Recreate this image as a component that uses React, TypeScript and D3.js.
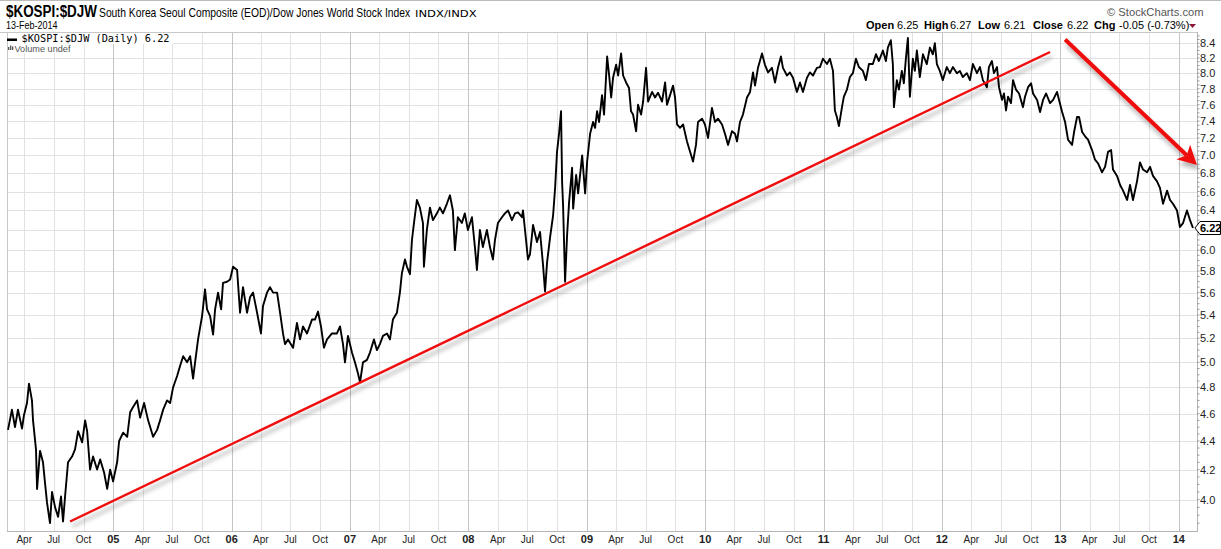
import React from "react";
import * as d3 from "d3";

// [decimal year, KOSPI/DJW ratio]
type Pt = [number, number];

const kospi2004: Pt[] = [
  [2004.112, 4.48], [2004.145, 4.63], [2004.171, 4.5], [2004.196, 4.63], [2004.23, 4.49], [2004.247, 4.59],
  [2004.272, 4.68], [2004.289, 4.83], [2004.314, 4.7], [2004.323, 4.55], [2004.348, 4.34], [2004.357, 4.07],
  [2004.382, 4.33], [2004.407, 4.25], [2004.424, 4.11], [2004.441, 3.98], [2004.466, 3.85], [2004.483, 4.05],
  [2004.509, 3.95], [2004.534, 3.89], [2004.559, 4.02], [2004.576, 3.86], [2004.593, 4.02], [2004.618, 4.25],
  [2004.652, 4.29], [2004.677, 4.34], [2004.703, 4.47], [2004.737, 4.39], [2004.762, 4.55], [2004.779, 4.47],
  [2004.804, 4.2], [2004.829, 4.29], [2004.863, 4.2], [2004.889, 4.27], [2004.922, 4.18], [2004.948, 4.07],
  [2004.973, 4.2], [2004.998, 4.12],
];
const kospi2005: Pt[] = [
  [2005.032, 4.25], [2005.049, 4.4], [2005.083, 4.46], [2005.117, 4.43], [2005.142, 4.61], [2005.167, 4.65],
  [2005.201, 4.7], [2005.226, 4.57], [2005.26, 4.68], [2005.294, 4.55], [2005.336, 4.43], [2005.37, 4.48],
  [2005.395, 4.55], [2005.421, 4.63], [2005.454, 4.7], [2005.48, 4.68], [2005.505, 4.8], [2005.539, 4.89],
  [2005.564, 4.97], [2005.59, 5.05], [2005.623, 5.0], [2005.649, 5.05], [2005.674, 4.87], [2005.691, 5.0],
  [2005.716, 5.19], [2005.75, 5.39], [2005.775, 5.63], [2005.792, 5.45], [2005.818, 5.39], [2005.843, 5.23],
  [2005.86, 5.45], [2005.885, 5.6], [2005.911, 5.45], [2005.927, 5.69], [2005.961, 5.7], [2005.987, 5.72],
];
const kospi2006: Pt[] = [
  [2006.012, 5.84], [2006.046, 5.81], [2006.071, 5.42], [2006.096, 5.65], [2006.13, 5.42], [2006.156, 5.56],
  [2006.181, 5.6], [2006.215, 5.42], [2006.248, 5.24], [2006.265, 5.48], [2006.299, 5.6], [2006.324, 5.65],
  [2006.35, 5.6], [2006.384, 5.6], [2006.409, 5.42], [2006.434, 5.24], [2006.451, 5.15], [2006.476, 5.19],
  [2006.519, 5.12], [2006.552, 5.33], [2006.578, 5.19], [2006.603, 5.3], [2006.637, 5.24], [2006.679, 5.36],
  [2006.704, 5.36], [2006.73, 5.43], [2006.755, 5.3], [2006.78, 5.12], [2006.806, 5.19], [2006.848, 5.24],
  [2006.89, 5.24], [2006.916, 5.3], [2006.941, 5.15], [2006.958, 5.0], [2006.983, 5.22],
];
const kospi2007: Pt[] = [
  [2007.017, 5.08], [2007.042, 5.0], [2007.068, 4.91], [2007.085, 4.84], [2007.11, 5.0], [2007.144, 5.02],
  [2007.169, 5.08], [2007.203, 5.19], [2007.228, 5.1], [2007.253, 5.15], [2007.279, 5.22], [2007.313, 5.24],
  [2007.338, 5.19], [2007.363, 5.36], [2007.397, 5.42], [2007.422, 5.6], [2007.439, 5.78], [2007.465, 5.91],
  [2007.482, 5.84], [2007.507, 5.77], [2007.524, 6.1], [2007.541, 6.27], [2007.566, 6.51], [2007.591, 6.43],
  [2007.617, 6.27], [2007.625, 5.84], [2007.65, 6.2], [2007.676, 6.43], [2007.701, 6.3], [2007.735, 6.37],
  [2007.76, 6.43], [2007.786, 6.37], [2007.819, 6.47], [2007.845, 6.56], [2007.87, 6.4], [2007.887, 6.0],
  [2007.912, 6.33], [2007.946, 6.27], [2007.971, 6.37], [2007.997, 6.2],
];
const kospi2008: Pt[] = [
  [2008.031, 6.33], [2008.056, 6.03], [2008.073, 5.81], [2008.098, 6.2], [2008.123, 6.03], [2008.157, 6.2],
  [2008.183, 6.03], [2008.208, 5.91], [2008.225, 6.1], [2008.25, 6.27], [2008.284, 6.33], [2008.309, 6.37],
  [2008.335, 6.4], [2008.368, 6.3], [2008.394, 6.37], [2008.419, 6.38], [2008.453, 6.33], [2008.461, 6.4],
  [2008.487, 6.1], [2008.503, 5.91], [2008.52, 5.96], [2008.546, 6.25], [2008.579, 6.08], [2008.605, 6.18],
  [2008.63, 5.86], [2008.647, 5.61], [2008.664, 5.88], [2008.689, 6.12], [2008.715, 6.35], [2008.732, 6.64],
  [2008.748, 7.04], [2008.765, 7.25], [2008.782, 7.52], [2008.791, 6.7], [2008.799, 6.46], [2008.816, 5.7],
  [2008.833, 6.15], [2008.85, 6.49], [2008.875, 6.86], [2008.884, 6.42], [2008.909, 6.78], [2008.926, 6.58],
  [2008.96, 7.0], [2008.985, 6.58],
];
const kospi2009: Pt[] = [
  [2009.002, 6.93], [2009.027, 7.25], [2009.052, 7.39], [2009.069, 7.32], [2009.086, 7.52], [2009.103, 7.39],
  [2009.128, 7.72], [2009.145, 7.48], [2009.171, 8.22], [2009.188, 7.97], [2009.205, 7.69], [2009.221, 7.94],
  [2009.247, 8.11], [2009.264, 7.97], [2009.289, 8.26], [2009.306, 7.97], [2009.331, 7.88], [2009.356, 7.81],
  [2009.373, 7.52], [2009.39, 7.48], [2009.416, 7.28], [2009.432, 7.6], [2009.458, 7.48], [2009.475, 7.64],
  [2009.5, 8.07], [2009.517, 7.64], [2009.551, 7.76], [2009.576, 7.69], [2009.601, 7.75], [2009.635, 7.64],
  [2009.661, 7.88], [2009.677, 7.6], [2009.703, 7.72], [2009.728, 7.84], [2009.745, 7.69], [2009.762, 7.36],
  [2009.787, 7.32], [2009.813, 7.36], [2009.846, 7.16], [2009.872, 7.04], [2009.897, 6.93], [2009.922, 7.12],
  [2009.939, 7.39], [2009.973, 7.43], [2009.998, 7.36],
];
const kospi2010: Pt[] = [
  [2010.024, 7.2], [2010.057, 7.56], [2010.083, 7.39], [2010.108, 7.43], [2010.142, 7.36], [2010.167, 7.25],
  [2010.193, 7.12], [2010.226, 7.28], [2010.252, 7.25], [2010.269, 7.16], [2010.294, 7.39], [2010.319, 7.48],
  [2010.353, 7.69], [2010.379, 7.76], [2010.404, 8.01], [2010.421, 7.84], [2010.446, 8.07], [2010.48, 8.26],
  [2010.505, 8.11], [2010.531, 8.01], [2010.564, 8.07], [2010.59, 7.88], [2010.615, 8.07], [2010.64, 8.22],
  [2010.657, 8.07], [2010.691, 7.97], [2010.716, 8.01], [2010.742, 7.94], [2010.775, 7.76], [2010.801, 7.88],
  [2010.826, 7.76], [2010.86, 7.94], [2010.885, 8.01], [2010.911, 7.97], [2010.944, 8.07], [2010.97, 8.08],
  [2010.995, 8.19],
];
const kospi2011: Pt[] = [
  [2011.029, 8.12], [2011.054, 8.19], [2011.08, 8.03], [2011.096, 7.53], [2011.113, 7.45], [2011.13, 7.34],
  [2011.156, 7.57], [2011.172, 7.7], [2011.198, 7.79], [2011.223, 7.95], [2011.248, 8.0], [2011.274, 8.19],
  [2011.299, 8.08], [2011.333, 8.03], [2011.358, 7.91], [2011.384, 8.12], [2011.417, 8.12], [2011.443, 8.25],
  [2011.468, 8.16], [2011.502, 8.3], [2011.527, 8.16], [2011.544, 8.34], [2011.569, 8.44], [2011.586, 8.12],
  [2011.595, 7.57], [2011.62, 7.91], [2011.637, 7.79], [2011.662, 8.03], [2011.679, 7.87], [2011.696, 8.19],
  [2011.713, 8.47], [2011.73, 7.7], [2011.755, 8.19], [2011.772, 8.03], [2011.789, 8.3], [2011.814, 7.95],
  [2011.84, 8.25], [2011.873, 8.12], [2011.899, 8.34], [2011.924, 8.25], [2011.941, 8.4], [2011.958, 8.12],
  [2011.983, 8.03],
];
const kospi2012: Pt[] = [
  [2012.008, 7.91], [2012.042, 8.08], [2012.068, 8.0], [2012.093, 8.08], [2012.127, 8.0], [2012.152, 8.03],
  [2012.177, 7.95], [2012.211, 8.0], [2012.237, 7.91], [2012.262, 8.12], [2012.296, 8.0], [2012.321, 8.08],
  [2012.346, 7.91], [2012.38, 7.82], [2012.397, 8.08], [2012.422, 8.16], [2012.439, 8.0], [2012.465, 8.08],
  [2012.482, 7.82], [2012.507, 7.66], [2012.524, 7.74], [2012.541, 7.53], [2012.558, 7.7], [2012.583, 7.62],
  [2012.6, 7.91], [2012.625, 7.79], [2012.651, 7.74], [2012.684, 7.57], [2012.701, 7.7], [2012.727, 7.82],
  [2012.752, 7.87], [2012.769, 7.74], [2012.803, 7.66], [2012.828, 7.51], [2012.853, 7.66], [2012.879, 7.74],
  [2012.912, 7.62], [2012.938, 7.66], [2012.971, 7.76], [2012.988, 7.66],
];
const kospi2013: Pt[] = [
  [2013.014, 7.51], [2013.039, 7.39], [2013.064, 7.18], [2013.098, 7.12], [2013.115, 7.27], [2013.14, 7.45],
  [2013.157, 7.45], [2013.183, 7.27], [2013.208, 7.22], [2013.233, 7.18], [2013.267, 7.06], [2013.292, 6.95],
  [2013.318, 6.91], [2013.351, 6.81], [2013.377, 6.87], [2013.402, 7.04], [2013.428, 7.06], [2013.444, 6.84],
  [2013.478, 6.77], [2013.504, 6.67], [2013.529, 6.61], [2013.563, 6.51], [2013.588, 6.67], [2013.613, 6.51],
  [2013.647, 6.71], [2013.672, 6.92], [2013.698, 6.84], [2013.732, 6.81], [2013.757, 6.87], [2013.782, 6.77],
  [2013.816, 6.71], [2013.841, 6.64], [2013.867, 6.47], [2013.901, 6.61], [2013.926, 6.51], [2013.951, 6.47],
  [2013.985, 6.4],
];
const kospi2014: Pt[] = [
  [2014.01, 6.23], [2014.036, 6.27], [2014.069, 6.4], [2014.095, 6.3], [2014.12, 6.22],
];

// hand-drawn annotations (in data units)
const trendLine: Pt[] = [[2004.635, 3.86], [2012.912, 8.28]];
const downArrow: Pt[] = [[2013.039, 8.45], [2014.154, 6.89]];

const yTicks = [4.0, 4.2, 4.4, 4.6, 4.8, 5.0, 5.2, 5.4, 5.6, 5.8, 6.0, 6.2, 6.4, 6.6, 6.8, 7.0, 7.2, 7.4, 7.6, 7.8, 8.0, 8.2, 8.4];
const quarterNames: Record<number, string> = { 3: "Apr", 6: "Jul", 9: "Oct" };

const quoteLabels = ["Open", "High", "Low", "Close", "Chg"];
const quoteValues = ["6.25", "6.27", "6.21", "6.22", "-0.05 (-0.73%)"];
const quoteLabelX = [866, 924, 978, 1033, 1094];
const quoteValueX = [897, 950, 1004, 1067, 1119];
const lastClose = 6.22;

const W = 1221;
const H = 549;
const plot = { left: 7, right: 1197, top: 32, bottom: 531 };
const sans = "'Liberation Sans', Arial, sans-serif";

// decimal year -> Date
const toDate = (t: number) => {
  const yr = Math.floor(t);
  const a = Date.UTC(yr, 0, 1);
  const b = Date.UTC(yr + 1, 0, 1);
  return new Date(a + (t - yr) * (b - a));
};

export default function App() {
  const series = [
    ...kospi2004, ...kospi2005, ...kospi2006, ...kospi2007, ...kospi2008,
    ...kospi2009, ...kospi2010, ...kospi2011, ...kospi2012, ...kospi2013, ...kospi2014,
  ];

  const x = d3.scaleUtc().domain([toDate(2004.1036), toDate(2014.154)]).range([plot.left, plot.right]);
  const y = d3.scaleLog().domain([3.801, 8.54]).range([plot.bottom, plot.top + 1]);
  const line = d3.line<Pt>().x((d) => x(toDate(d[0]))).y((d) => y(d[1]));

  const [d0, d1] = x.domain();
  const quarterTicks = d3.utcMonth.every(3)!.range(d0, d1);
  const minorTicks = d3.range(3.85, 8.53, 0.05);

  // arrow geometry
  const p0 = [x(toDate(downArrow[0][0])), y(downArrow[0][1])];
  const p1 = [x(toDate(downArrow[1][0])), y(downArrow[1][1])];
  const len = Math.hypot(p1[0] - p0[0], p1[1] - p0[1]);
  const u = [(p1[0] - p0[0]) / len, (p1[1] - p0[1]) / len];
  const n = [-u[1], u[0]];
  const headL = 19;
  const headW = 10;
  const base = [p1[0] - u[0] * headL, p1[1] - u[1] * headL];
  const notch = [p1[0] - u[0] * headL * 0.75, p1[1] - u[1] * headL * 0.75];
  const head = [
    p1,
    [base[0] + n[0] * headW, base[1] + n[1] * headW],
    notch,
    [base[0] - n[0] * headW, base[1] - n[1] * headW],
  ];

  const yc = y(lastClose);

  return (
    <svg width={W} height={H} style={{ position: "absolute", left: 0, top: 0, background: "#fff" }}>
      <defs>
        <filter id="shadow" x="-10%" y="-10%" width="120%" height="130%">
          <feDropShadow dx="2" dy="5" stdDeviation="2" floodColor="#000" floodOpacity="0.3" />
        </filter>
      </defs>
      <rect width={W} height={H} fill="#fff" />
      <line x1={0} x2={W} y1={0.5} y2={0.5} stroke="#bbb" />

      {/* grid */}
      {yTicks.map((v) => (
        <line key={"h" + v} x1={plot.left} x2={plot.right} y1={Math.round(y(v)) + 0.5} y2={Math.round(y(v)) + 0.5} stroke="#e2e2e2" />
      ))}
      {quarterTicks.map((d) => {
        const xx = Math.round(x(d)) + 0.5;
        return (
          <line key={"v" + d.getTime()} x1={xx} x2={xx} y1={plot.top} y2={plot.bottom}
            stroke={d.getUTCMonth() === 0 ? "#c4c4c4" : "#e2e2e2"} />
        );
      })}

      {/* frame */}
      <line x1={0} x2={plot.right} y1={plot.top + 0.5} y2={plot.top + 0.5} stroke="#c8c8c8" />
      <line x1={plot.left + 0.5} x2={plot.left + 0.5} y1={plot.top} y2={plot.bottom} stroke="#c8c8c8" />
      <line x1={plot.left} x2={plot.right} y1={plot.bottom + 0.5} y2={plot.bottom + 0.5} stroke="#b4b4b4" />
      <line x1={plot.right + 0.5} x2={plot.right + 0.5} y1={plot.top} y2={plot.bottom + 1} stroke="#b4b4b4" />

      {/* legend */}
      <rect x={plot.left + 1} y={plot.top + 1} width={165} height={11} fill="#fff" />
      <rect x={plot.left + 1} y={plot.top + 12} width={72} height={9} fill="#fff" />
      <rect x={7} y={38.5} width={10} height={2.5} fill="#000" />
      <text x={21.5} y={41.5} fontFamily="'DejaVu Sans Mono', 'Liberation Mono', monospace" fontSize={10}
        textLength={148} lengthAdjust="spacingAndGlyphs" fill="#000">
        $KOSPI:$DJW (Daily) 6.22
      </text>
      <rect x={8} y={47} width={1.3} height={3} fill="#555" />
      <rect x={10} y={45.5} width={1.3} height={4.5} fill="#555" />
      <rect x={12} y={46.5} width={1.3} height={3.5} fill="#555" />
      <text x={14.5} y={52} fontFamily={sans} fontSize={8.5} fill="#555" textLength={56} lengthAdjust="spacingAndGlyphs">
        Volume undef
      </text>

      {/* price series */}
      <path d={line(series) ?? ""} fill="none" stroke="#000" strokeWidth={1.9} strokeLinejoin="round" />

      {/* trendline */}
      <path d={line(trendLine) ?? ""} fill="none" stroke="#f01010" strokeWidth={2.4} filter="url(#shadow)" />

      {/* arrow */}
      <g filter="url(#shadow)">
        <line x1={p0[0]} y1={p0[1]} x2={notch[0]} y2={notch[1]} stroke="#ee1111" strokeWidth={4} />
        <path d={"M" + head.map((p) => p.join(",")).join("L") + "Z"} fill="#ee1111" />
      </g>

      {/* right axis */}
      {minorTicks.map((v) => (
        <line key={"m" + v.toFixed(2)} x1={plot.right} x2={plot.right + 2.5} y1={y(v)} y2={y(v)} stroke="#999" />
      ))}
      {yTicks
        .filter((v) => Math.abs(y(v) - yc) > 9)
        .map((v) => (
          <text key={"t" + v} x={1200} y={y(v) + 4} fontFamily={sans} fontSize={11} fill="#222">
            {v.toFixed(1)}
          </text>
        ))}
      <path
        d={`M${plot.right - 2},${yc} L${plot.right + 3},${yc - 6.5} H${W - 0.5} V${yc + 6.5} H${plot.right + 3} Z`}
        fill="#fff" stroke="#000" strokeWidth={1}
      />
      <text x={1200} y={yc + 4} fontFamily={sans} fontSize={11} fontWeight="bold" fill="#000">
        {lastClose.toFixed(2)}
      </text>

      {/* bottom axis */}
      {quarterTicks.map((d) => {
        const m = d.getUTCMonth();
        const isYear = m === 0;
        return (
          <text key={"xl" + d.getTime()} x={x(d)} y={543} textAnchor="middle" fontFamily={sans}
            fontSize={isYear ? 11 : 10} fontWeight={isYear ? "bold" : "normal"} fill="#222">
            {isYear ? String(d.getUTCFullYear()).slice(2) : quarterNames[m]}
          </text>
        );
      })}

      {/* header */}
      <text transform="translate(6,17) scale(0.79,1)" fontFamily={sans} fontSize={17} fontWeight="bold">
        $KOSPI:$DJW
      </text>
      <text transform="translate(99,16.5) scale(0.86,1)" fontFamily={sans} fontSize={12}>
        South Korea Seoul Composite (EOD)/Dow Jones World Stock Index
      </text>
      <text transform="translate(415,16.5) scale(1.22,1)" fontFamily="'DejaVu Sans', Verdana, sans-serif" fontSize={9.5}>
        INDX/INDX
      </text>
      <text transform="translate(6,28.5) scale(0.9,1)" fontFamily={sans} fontSize={10}>
        13-Feb-2014
      </text>
      <text x={1107} y={16} fontFamily={sans} fontSize={11.2} fill="#555">
        © StockCharts.com
      </text>
      {quoteLabels.map((lab, i) => (
        <g key={lab}>
          <text x={quoteLabelX[i]} y={28.5} fontFamily={sans} fontSize={11} fontWeight="bold">{lab}</text>
          <text x={quoteValueX[i]} y={28.5} fontFamily={sans} fontSize={11}>{quoteValues[i]}</text>
        </g>
      ))}
      <path d="M1189,24 L1196,24 L1192.5,28 Z" fill="#8b1a3a" />
    </svg>
  );
}
